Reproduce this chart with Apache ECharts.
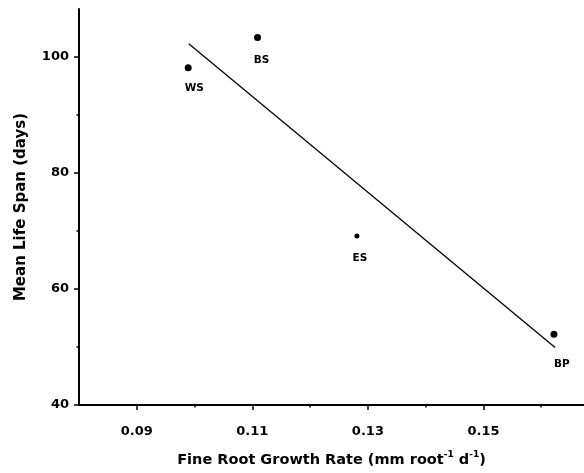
<!DOCTYPE html>
<html>
<head>
<meta charset="utf-8">
<script src="https://cdn.jsdelivr.net/npm/echarts@6/dist/echarts.min.js"></script>
<style>html,body{margin:0;padding:0;background:#fff}#c{width:584px;height:473px}</style>
</head>
<body>
<div id="c"></div>
<script>
// Data
var speciesNames = ['WS', 'BS', 'ES', 'BP'];
var growthRate = [0.0989, 0.1109, 0.1281, 0.1622];
var lifeSpan = [98.1, 103.3, 69.1, 52.2];
var fitX = [0.0990, 0.1624];
var fitY = [102.2, 49.9];
var xTickLabels = [0.09, 0.11, 0.13, 0.15];
var xMinorTicks = [0.10, 0.12, 0.14, 0.16];
var yTickLabels = [40, 60, 80, 100];
var yMinorTicks = [50, 70, 90];

// Styling (not data)
var FONT = 'DejaVu Sans';
var symbolSizes = [7, 7, 5, 7];
var labelOffsets = [[6, 21], [4, 23], [3, 22], [8, 30]];

var pts = speciesNames.map(function (n, i) {
  return {
    name: n,
    value: [growthRate[i], lifeSpan[i]],
    symbolSize: symbolSizes[i],
    label: { offset: labelOffsets[i] }
  };
});
var fit = fitX.map(function (x, i) { return [x, fitY[i]]; });

var X_MIN = 0.08, X_MAX = 0.1674, Y_MIN = 40, Y_MAX = 108.2;

var chart = echarts.init(document.getElementById('c'), null, { renderer: 'canvas' });
chart.setOption({
  animation: false,
  backgroundColor: '#fff',
  grid: { left: 79, right: 0, top: 9, bottom: 66, containLabel: false },
  xAxis: [{
    type: 'value', min: X_MIN, max: X_MAX,
    name: '{a|Fine Root Growth Rate (mm root}{s|-1}{a| d}{s|-1}{a|)}',
    nameLocation: 'middle', nameGap: 45,
    nameTextStyle: {
      rich: {
        a: { fontFamily: FONT, fontWeight: 'bold', fontSize: 14.5, color: '#000', lineHeight: 18, verticalAlign: 'bottom' },
        s: { fontFamily: FONT, fontWeight: 'bold', fontSize: 9, color: '#000', lineHeight: 18, verticalAlign: 'top', padding: [0, 0, 7, 0] }
      }
    },
    splitLine: { show: false },
    axisLine: { show: true, onZero: false, lineStyle: { color: '#000', width: 2 } },
    axisTick: { show: true, customValues: xTickLabels, length: 5, lineStyle: { color: '#000', width: 1.5 } },
    axisLabel: {
      customValues: xTickLabels, margin: 20,
      fontFamily: FONT, fontWeight: 'bold', fontSize: 13, color: '#000',
      formatter: function (v) { return v.toFixed(2); }
    }
  }, {
    type: 'value', min: X_MIN, max: X_MAX, position: 'bottom',
    splitLine: { show: false },
    axisLine: { show: false, onZero: false },
    axisTick: { show: true, customValues: xMinorTicks, length: 2.5, lineStyle: { color: '#000', width: 1.5 } },
    axisLabel: { show: false }
  }],
  yAxis: [{
    type: 'value', min: Y_MIN, max: Y_MAX,
    name: 'Mean Life Span (days)',
    nameLocation: 'middle', nameGap: 50,
    nameTextStyle: { fontFamily: FONT, fontWeight: 'bold', fontSize: 15, color: '#000' },
    splitLine: { show: false },
    axisLine: { show: true, onZero: false, lineStyle: { color: '#000', width: 2 } },
    axisTick: { show: true, customValues: yTickLabels, length: 5, lineStyle: { color: '#000', width: 1.5 } },
    axisLabel: {
      customValues: yTickLabels, margin: 10,
      fontFamily: FONT, fontWeight: 'bold', fontSize: 13, color: '#000'
    }
  }, {
    type: 'value', min: Y_MIN, max: Y_MAX, position: 'left',
    splitLine: { show: false },
    axisLine: { show: false, onZero: false },
    axisTick: { show: true, customValues: yMinorTicks, length: 2.5, lineStyle: { color: '#000', width: 1.5 } },
    axisLabel: { show: false }
  }],
  series: [{
    type: 'line', data: fit, symbol: 'none', xAxisIndex: 0, yAxisIndex: 0,
    lineStyle: { color: '#000', width: 1.3 }, silent: true
  }, {
    type: 'scatter', data: pts, xAxisIndex: 0, yAxisIndex: 0,
    itemStyle: { color: '#000', opacity: 1 },
    label: {
      show: true, position: 'inside', formatter: '{b}',
      fontFamily: FONT, fontWeight: 'bold', fontSize: 10.5, color: '#000',
      textBorderWidth: 0, opacity: 1
    }
  }]
});
</script>
</body>
</html>
